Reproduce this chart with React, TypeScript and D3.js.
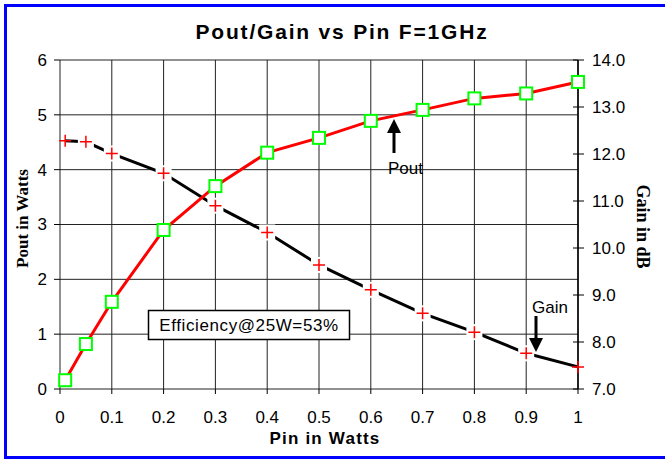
import * as d3 from "d3";
import React from "react";

const pin = [0.01, 0.05, 0.1, 0.2, 0.3, 0.4, 0.5, 0.6, 0.7, 0.8, 0.9, 1.0];
const pout = [0.16, 0.82, 1.59, 2.9, 3.7, 4.31, 4.58, 4.89, 5.09, 5.3, 5.39, 5.6];
const gain = [12.28, 12.26, 12.01, 11.59, 10.9, 10.33, 9.64, 9.11, 8.61, 8.21, 7.76, 7.47];
const xTicks = [0, 0.1, 0.2, 0.3, 0.4, 0.5, 0.6, 0.7, 0.8, 0.9, 1];
const poutTicks = [0, 1, 2, 3, 4, 5, 6];
const gainTicks = [7, 8, 9, 10, 11, 12, 13, 14];

const W = 665;
const H = 460;
const left = 60;
const right = 578;
const top = 60;
const bottom = 389;
const sans = "Arial, 'Liberation Sans', Helvetica, sans-serif";
const serif = "'Times New Roman', 'Liberation Serif', serif";

const App: React.FC = () => {
  const x = d3.scaleLinear().domain([0, 1]).range([left, right]);
  const yP = d3.scaleLinear().domain([0, 6]).range([bottom, top]);
  const yG = d3.scaleLinear().domain([7, 14]).range([bottom, top]);

  const poutLine = d3
    .line<number>()
    .x((_, i) => x(pin[i]))
    .y((d) => yP(d))(pout) as string;
  const gainLine = d3
    .line<number>()
    .x((_, i) => x(pin[i]))
    .y((d) => yG(d))(gain) as string;

  return (
    <div style={{ position: "absolute", left: 0, top: 0 }}>
      <svg width={W} height={H} style={{ display: "block", background: "#fff" }}>
        <rect x={5.5} y={5.5} width={W + 10} height={452} fill="#fff" stroke="#0000ff" strokeWidth={3} />

        {/* grid */}
        {xTicks.map((t) => (
          <line key={"vx" + t} x1={x(t)} x2={x(t)} y1={top} y2={bottom} stroke="#222" strokeWidth={1} />
        ))}
        {poutTicks.map((t) => (
          <line key={"hy" + t} x1={left} x2={right} y1={yP(t)} y2={yP(t)} stroke="#222" strokeWidth={1} />
        ))}

        {/* left axis ticks */}
        {poutTicks.map((t) => (
          <g key={"lt" + t}>
            <line x1={left - 6} x2={left} y1={yP(t)} y2={yP(t)} stroke="#000" />
            <text x={47} y={yP(t)} dy="0.35em" textAnchor="end" fontFamily={sans} fontSize={17}>
              {t}
            </text>
          </g>
        ))}
        {/* bottom ticks */}
        {xTicks.map((t) => (
          <g key={"bt" + t}>
            <line x1={x(t)} x2={x(t)} y1={bottom} y2={bottom + 5} stroke="#000" />
            <text x={x(t)} y={417} dy="0.35em" textAnchor="middle" fontFamily={sans} fontSize={17}>
              {String(t)}
            </text>
          </g>
        ))}
        {/* right axis */}
        <line x1={right} x2={right} y1={top} y2={bottom} stroke="#000" strokeWidth={1.5} />
        {gainTicks.map((t) => (
          <g key={"rt" + t}>
            <line x1={right - 5} x2={right + 6} y1={yG(t)} y2={yG(t)} stroke="#000" />
            <text x={592} y={yG(t)} dy="0.35em" textAnchor="start" fontFamily={sans} fontSize={17}>
              {t.toFixed(1)}
            </text>
          </g>
        ))}

        {/* gain series */}
        <path d={gainLine} fill="none" stroke="#000" strokeWidth={3} />
        {gain.map((g, i) => (
          <g key={"gm" + i} transform={`translate(${x(pin[i])},${yG(g)})`}>
            <rect x={-8} y={-8} width={16} height={16} fill="#fff" opacity={i === 0 || i === gain.length - 1 ? 0 : 1} />
            <path d="M-6,0H6M0,-6V6" stroke="#ff0000" strokeWidth={1.5} />
          </g>
        ))}

        {/* pout series */}
        <path d={poutLine} fill="none" stroke="#ff0000" strokeWidth={3} />
        {pout.map((p, i) => (
          <rect
            key={"pm" + i}
            x={x(pin[i]) - 6}
            y={yP(p) - 6}
            width={12}
            height={12}
            fill="#fff"
            stroke="#00ff00"
            strokeWidth={2}
          />
        ))}

        {/* annotations */}
        <line x1={394} x2={394} y1={153} y2={130} stroke="#000" strokeWidth={3} />
        <path d="M387,133L394,119L401,133Z" fill="#000" />
        <text x={388} y={174} fontFamily={sans} fontSize={17}>
          Pout
        </text>

        <line x1={536} x2={536} y1={316} y2={340} stroke="#000" strokeWidth={3} />
        <path d="M529,338L536,352L543,338Z" fill="#000" />
        <text x={532} y={313} fontFamily={sans} fontSize={17}>
          Gain
        </text>

        <rect x={148.5} y={310.5} width={201} height={29} fill="#fff" stroke="#000" strokeWidth={1.5} />
        <text x={249} y={325} dy="0.35em" textAnchor="middle" fontFamily={sans} fontSize={17} letterSpacing={0.6}>
          Efficiency@25W=53%
        </text>

        {/* titles */}
        <text
          x={342}
          y={32}
          dy="0.35em"
          textAnchor="middle"
          fontFamily={sans}
          fontSize={21}
          fontWeight="bold"
          letterSpacing={1.8}
        >
          Pout/Gain vs Pin F=1GHz
        </text>
        <text
          x={325}
          y={438}
          dy="0.35em"
          textAnchor="middle"
          fontFamily={sans}
          fontSize={17}
          fontWeight="bold"
          letterSpacing={1.2}
        >
          Pin in Watts
        </text>
        <text
          transform={`translate(22,${(top + bottom) / 2 - 6}) rotate(-90)`}
          dy="0.35em"
          textAnchor="middle"
          fontFamily={serif}
          fontSize={17}
          fontWeight="bold"
        >
          Pout in Watts
        </text>
        <text
          transform={`translate(643,${(top + bottom) / 2 + 2}) rotate(90)`}
          dy="0.35em"
          textAnchor="middle"
          fontFamily={serif}
          fontSize={18}
          fontWeight="bold"
        >
          Gain in dB
        </text>
      </svg>
    </div>
  );
};

export default App;
